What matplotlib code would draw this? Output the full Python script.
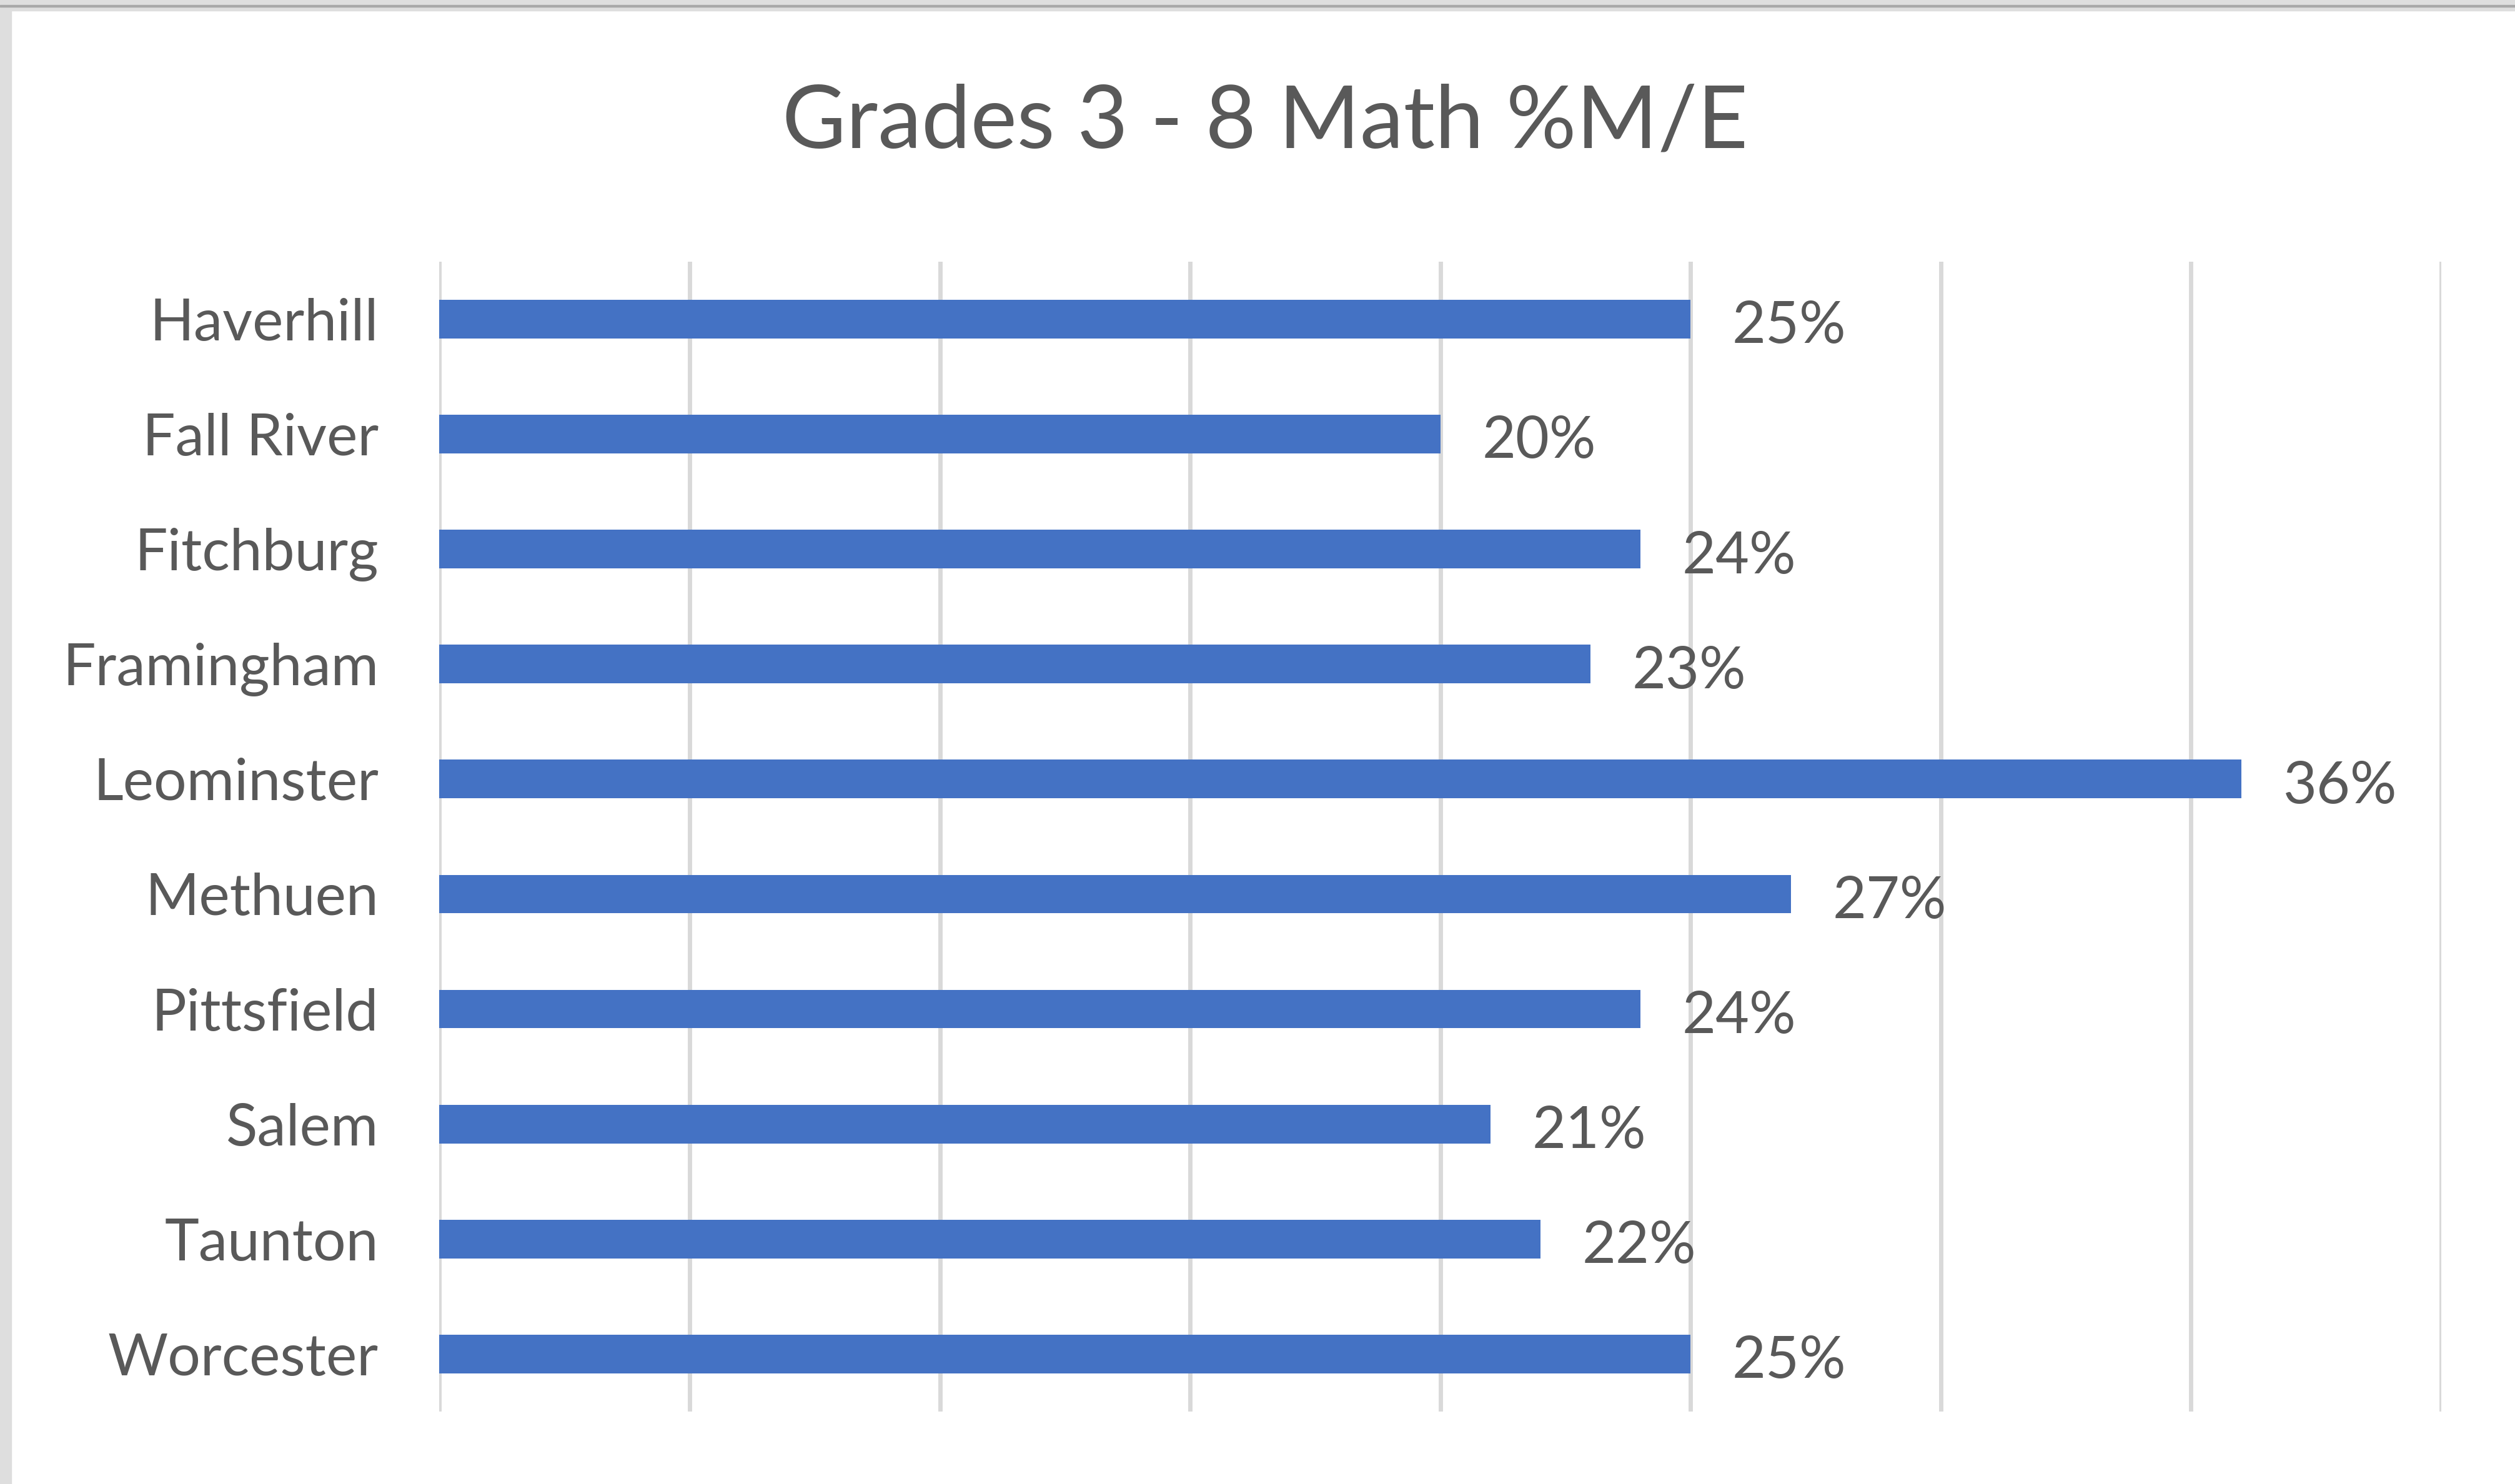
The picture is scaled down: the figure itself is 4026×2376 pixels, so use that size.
import matplotlib
matplotlib.use("Agg")
import matplotlib.pyplot as plt
from matplotlib.patches import Rectangle

# data
districts = ["Haverhill", "Fall River", "Fitchburg", "Framingham", "Leominster",
             "Methuen", "Pittsfield", "Salem", "Taunton", "Worcester"]
pct_me = [25, 20, 24, 23, 36, 27, 24, 21, 22, 25]
grid_ticks = [0, 5, 10, 15, 20, 25, 30, 35, 40]
title = "Grades 3 - 8 Math %M/E"

bar_color = "#4472C4"
text_color = "#595959"
grid_color = "#D9D9D9"

plt.rcParams["font.family"] = ["Lato", "DejaVu Sans"]

fig = plt.figure(figsize=(40.26, 23.76), dpi=100)
ax = fig.add_axes([0.1747, 0.0488, 0.9707 - 0.1747, 0.8238 - 0.0488])

y = list(range(len(districts)))
ax.barh(y, pct_me, height=0.335, color=bar_color, zorder=3)
ax.set_ylim(len(districts) - 0.5, -0.5)
ax.set_xlim(grid_ticks[0], grid_ticks[-1])

ax.set_xticks(grid_ticks)
ax.set_xticklabels([])
ax.tick_params(axis="x", length=0)
ax.grid(axis="x", color=grid_color, linewidth=5, zorder=0)
ax.set_axisbelow(True)

ax.set_yticks(y)
ax.set_yticklabels(districts, fontsize=67, color=text_color)
ax.tick_params(axis="y", length=0, pad=70)

for s in ax.spines.values():
    s.set_visible(False)

for yi, v in zip(y, pct_me):
    ax.annotate(f"{v}%", xy=(v, yi), xytext=(48, -9), textcoords="offset points",
                ha="left", va="center", fontsize=67, color=text_color)

fig.text(0.503, 0.917, title, ha="center", va="center", fontsize=101, color=text_color)

# screenshot frame: grey strips on the left and top edges
fig.patches.append(Rectangle((0, 0), 18 / 4026, 1, transform=fig.transFigure,
                             color="#DEDEDE", zorder=-1))
fig.patches.append(Rectangle((0, 1 - 17 / 2376), 1, 17 / 2376, transform=fig.transFigure,
                             color="#DEDEDE", zorder=-1))
fig.patches.append(Rectangle((0, 1 - 11 / 2376), 1, 3 / 2376, transform=fig.transFigure,
                             color="#A8A8A8", zorder=-1))

fig.savefig("out.png", dpi=100)
